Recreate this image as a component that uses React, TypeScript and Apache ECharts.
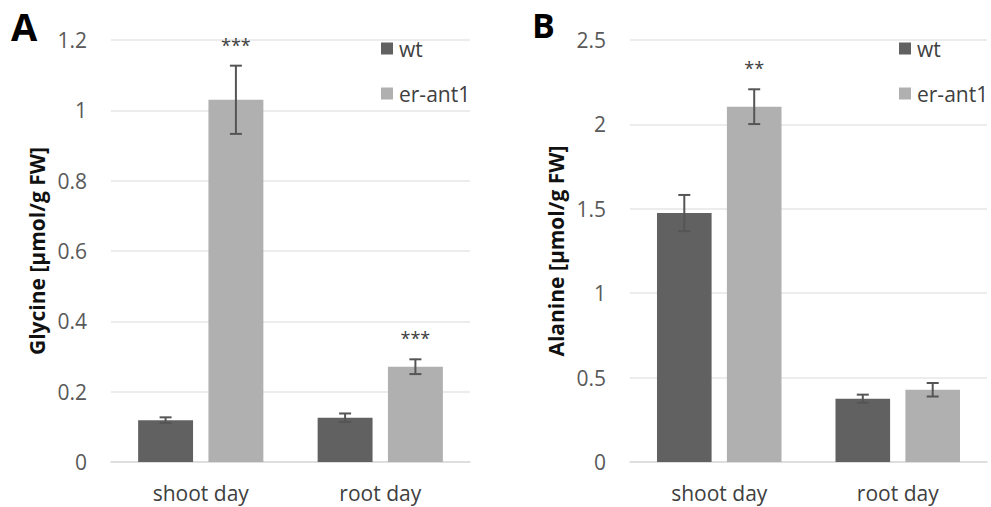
import React, { useEffect, useRef } from "react";
import * as echarts from "echarts";

const categories = ["shoot day", "root day"];
const seriesNames = ["wt", "er-ant1"];

const glycineWt = [0.119, 0.126];
const glycineWtErr = [0.008, 0.012];
const glycineEr = [1.03, 0.271];
const glycineErErr = [0.097, 0.021];
const glycineStars = ["***", "***"];

const alanineWt = [1.475, 0.375];
const alanineWtErr = [0.107, 0.024];
const alanineEr = [2.105, 0.428];
const alanineErErr = [0.103, 0.04];
const alanineStars = ["**", ""];

const glycineTicks = { min: 0, max: 1.2, interval: 0.2 };
const alanineTicks = { min: 0, max: 2.5, interval: 0.5 };

const FONT = "'Open Sans', 'Noto Sans', sans-serif";
const WT_COLOR = "#616161";
const ER_COLOR = "#b0b0b0";
const ERR_COLOR = "#555555";
const BAR_W = 0.306;
const BAR_GAP = 0.28;

function errData(wt: number[], wtErr: number[], er: number[], erErr: number[]) {
  const out: number[][] = [];
  wt.forEach((v, i) => out.push([i, v, wtErr[i], -1]));
  er.forEach((v, i) => out.push([i, v, erErr[i], 1]));
  return out;
}

function errRender(params: any, api: any) {
  const cat = api.value(0);
  const val = api.value(1);
  const err = api.value(2);
  const side = api.value(3);
  const bandW = api.size([1, 0])[0];
  const bw = bandW * BAR_W;
  const off = (side * bw * (1 + BAR_GAP)) / 2;
  const top = api.coord([cat, val + err]);
  const bot = api.coord([cat, val - err]);
  const x = top[0] + off;
  const cap = 6;
  const style = { stroke: ERR_COLOR, lineWidth: 2 };
  return {
    type: "group",
    children: [
      { type: "line", shape: { x1: x, y1: top[1], x2: x, y2: bot[1] }, style },
      { type: "line", shape: { x1: x - cap, y1: top[1], x2: x + cap, y2: top[1] }, style },
      { type: "line", shape: { x1: x - cap, y1: bot[1], x2: x + cap, y2: bot[1] }, style },
    ],
  };
}

function starsRender(stars: string[]) {
  return (params: any, api: any) => {
    const cat = api.value(0);
    const top = api.value(1);
    const bandW = api.size([1, 0])[0];
    const bw = bandW * BAR_W;
    const off = (bw * (1 + BAR_GAP)) / 2;
    const p = api.coord([cat, top]);
    return {
      type: "text",
      x: p[0] + off,
      y: p[1] - 12,
      style: {
        text: stars[params.dataIndex],
        fill: "#404040",
        font: `18px ${FONT}`,
        textAlign: "center",
        textVerticalAlign: "bottom",
      },
    };
  };
}

export default function App() {
  const ref = useRef<HTMLDivElement>(null);
  useEffect(() => {
    if (!ref.current) return;
    const chart = echarts.init(ref.current, undefined, { renderer: "svg" });

    const yAxisCommon = (name: string, ticks: any, gridIndex: number) => ({
      type: "value",
      gridIndex,
      min: ticks.min,
      max: ticks.max,
      interval: ticks.interval,
      name,
      nameLocation: "middle",
      nameGap: 64,
      nameTextStyle: { fontFamily: FONT, fontWeight: "bold", fontSize: 21, color: "#111" },
      axisLine: { show: false },
      axisTick: { show: false },
      axisLabel: { fontFamily: FONT, fontSize: 21, color: "#595959", margin: 24 },
      splitLine: { lineStyle: { color: "#e6e6e6", width: 1.5 } },
    });
    const xAxisCommon = (gridIndex: number) => ({
      type: "category",
      gridIndex,
      data: categories,
      axisLine: { lineStyle: { color: "#d9d9d9", width: 1.5 } },
      axisTick: { show: false },
      axisLabel: { fontFamily: FONT, fontSize: 21, color: "#404040", margin: 20 },
    });
    const barCommon = {
      type: "bar",
      barWidth: BAR_W * 100 + "%",
      barGap: BAR_GAP * 100 + "%",
    };

    const legendCommon = (left: number) => ({
      left,
      top: 33,
      orient: "vertical",
      itemWidth: 12,
      itemHeight: 12,
      itemGap: 24,
      icon: "rect",
      data: seriesNames,
      textStyle: { fontFamily: FONT, fontSize: 21, color: "#404040", padding: [0, 0, 0, 1] },
      selectedMode: false,
    });

    chart.setOption({
      animation: false,
      backgroundColor: "#ffffff",
      graphic: [
        { type: "text", left: 11, top: 7, style: { text: "A", font: `bold 38px ${FONT}`, fill: "#000" } },
        { type: "text", left: 532, top: 8, style: { text: "B", font: `bold 34px ${FONT}`, fill: "#000" } },
      ],
      legend: [legendCommon(376), legendCommon(894)],
      grid: [
        { left: 111, top: 40, width: 359, height: 422 },
        { left: 630, top: 40, width: 357, height: 422 },
      ],
      xAxis: [xAxisCommon(0), xAxisCommon(1)],
      yAxis: [
        yAxisCommon("Glycine [µmol/g FW]", glycineTicks, 0),
        yAxisCommon("Alanine [µmol/g FW]", alanineTicks, 1),
      ],
      series: [
        { ...barCommon, name: seriesNames[0], xAxisIndex: 0, yAxisIndex: 0, data: glycineWt, itemStyle: { color: WT_COLOR } },
        { ...barCommon, name: seriesNames[1], xAxisIndex: 0, yAxisIndex: 0, data: glycineEr, itemStyle: { color: ER_COLOR } },
        { ...barCommon, name: seriesNames[0], xAxisIndex: 1, yAxisIndex: 1, data: alanineWt, itemStyle: { color: WT_COLOR } },
        { ...barCommon, name: seriesNames[1], xAxisIndex: 1, yAxisIndex: 1, data: alanineEr, itemStyle: { color: ER_COLOR } },
        {
          type: "custom",
          xAxisIndex: 0,
          yAxisIndex: 0,
          renderItem: errRender,
          data: errData(glycineWt, glycineWtErr, glycineEr, glycineErErr),
          z: 5,
        },
        {
          type: "custom",
          xAxisIndex: 1,
          yAxisIndex: 1,
          renderItem: errRender,
          data: errData(alanineWt, alanineWtErr, alanineEr, alanineErErr),
          z: 5,
        },
        {
          type: "custom",
          xAxisIndex: 0,
          yAxisIndex: 0,
          renderItem: starsRender(glycineStars),
          data: glycineEr.map((v, i) => [i, v + glycineErErr[i]]),
          z: 5,
        },
        {
          type: "custom",
          xAxisIndex: 1,
          yAxisIndex: 1,
          renderItem: starsRender(alanineStars),
          data: alanineEr.map((v, i) => [i, v + alanineErErr[i]]),
          z: 5,
        },
      ],
    });
    return () => chart.dispose();
  }, []);
  return (
    <div
      ref={ref}
      style={{ position: "fixed", left: 0, top: 0, width: 991, height: 507, background: "#fff" }}
    />
  );
}
